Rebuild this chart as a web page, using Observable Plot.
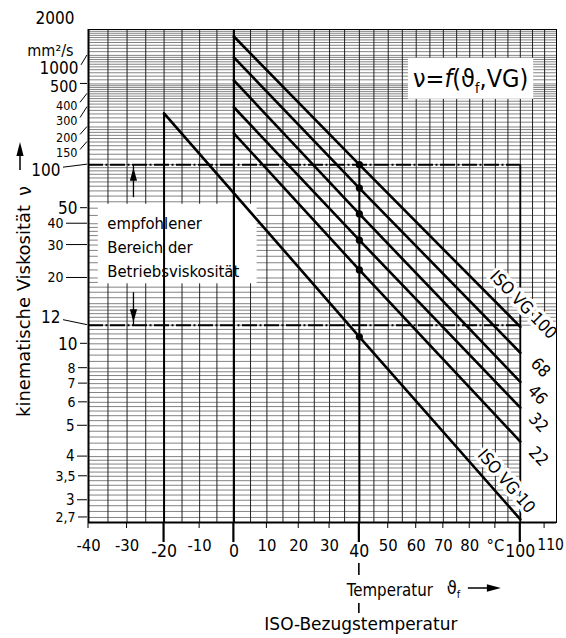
<!DOCTYPE html>
<html><head><meta charset="utf-8">
<script src="https://cdn.jsdelivr.net/npm/d3@7"></script>
<script src="https://cdn.jsdelivr.net/npm/@observablehq/plot@0.6"></script>
<style>
html,body{margin:0;padding:0;background:#fff;}
#chart svg{display:block;}
</style>
</head><body><div id="chart"></div>
<script>
// ---------------- data ----------------
const grades      = ["ISO VG 100", "68", "46", "32", "22", "ISO VG 10"];
const startTemp   = [0, 0, 0, 0, 0, -20];
const startVisc   = [1648, 951, 543, 299, 177, 263.5];
const refTemp     = 40;
const refVisc     = [100, 68, 46, 32, 22, 10.7];
const endTemp     = 100;
const endVisc     = [11.8, 9.2, 7.1, 5.75, 4.45, 2.67];

const yTickValues = [2000, 1000, 500, 400, 300, 200, 150, 100, 50, 40, 30, 20, 12, 10, 8, 7, 6, 5, 4, 3.5, 3, 2.7];
const yTickLabels = ["2000","1000","500","400","300","200","150","100","50","40","30","20","12","10","8","7","6","5","4","3,5","3","2,7"];
const xTickValues = [-40, -30, -20, -10, 0, 10, 20, 30, 40, 50, 60, 70, 80, 90, 100, 110];
const xTickLabels = ["-40","-30","-20","-10","0","10","20","30","40","50","60","70","80","°C","100","110"];
const xEmphasis   = [-20, 0, 40, 100];
const xGridStep   = [-35, 110, 5];
const ySegments   = [[2.7,4,0.1],[4,6,0.2],[6,8,0.25],[8,15,0.5],[15,20,1],[20,40,2],[40,100,5],[100,200,10],[200,500,20],[500,1000,50],[1000,2000,100]];
const rangeLimits = [100, 12];          // empfohlener Bereich der Betriebsviskosität
const rangeArrowFrom = [59, 17];
const rangeArrowTemp = -28.3;

// ---------------- layout / styles ----------------
const FONT = "'DejaVu Sans Condensed','Liberation Sans Narrow','DejaVu Sans',sans-serif";
const W = v => Math.log10(Math.log10(v + 0.8));   // Ubbelohde viscosity axis
const K = t => t + 273.15;                        // absolute temperature (log axis)
const yBottom = 2.62, yTop = 2000, tLeft = -40, tRight = 115;
const ML = 88, MR = 10, MT = 29, MB = 116;
const rangeBox   = {t1: -37.5, t2: 7, v1: 18.7, v2: 53};
const formulaBox = {t1: 57.2, t2: 105.5, v1: 355, v2: 929};
const rightBox   = {t1: 100, t2: tRight, v1: yBottom, v2: 11.8};
const yLabelLayout = {
  "2000": {right: 74, dy: -11, size: 17, conn: false},
  "1000": {right: 78, dy: 13, size: 17},
  "500":  {right: 77, dy: 3,  size: 16},
  "400":  {right: 77, dy: 12, size: 12.5},
  "300":  {right: 77, dy: 14, size: 12.5},
  "200":  {right: 77, dy: 11, size: 12.5},
  "150":  {right: 77, dy: 11, size: 12.5},
  "100":  {right: 60, dy: 6,  size: 17},
  "50":   {right: 77, dy: 0,  size: 17},
  "40":   {right: 63, dy: 0,  size: 14},
  "30":   {right: 63, dy: 0,  size: 14},
  "20":   {right: 63, dy: 0,  size: 14},
  "12":   {right: 60, dy: -8, size: 17},
  "10":   {right: 77, dy: 1,  size: 17},
  "8":    {right: 75, dy: 0,  size: 14},
  "7":    {right: 75, dy: 0,  size: 14},
  "6":    {right: 75, dy: 0,  size: 14},
  "5":    {right: 74, dy: 0,  size: 15},
  "4":    {right: 74, dy: 0,  size: 15},
  "3,5":  {right: 75, dy: 0,  size: 14},
  "3":    {right: 74, dy: 0,  size: 15},
  "2,7":  {right: 75, dy: 0,  size: 14}
};
const lineLabelLayout = [
  {dx: 3,   dy: -22, rotate: 46, size: 17},
  {dx: 20,  dy: 15,  rotate: 46, size: 17},
  {dx: 17,  dy: 13,  rotate: 46, size: 17},
  {dx: 18,  dy: 15,  rotate: 46, size: 17},
  {dx: 18,  dy: 15,  rotate: 46, size: 17},
  {dx: -14, dy: -38, rotate: 49, size: 17}
];

// ---------------- derived tables ----------------
const lineData = grades.flatMap((g, i) => [
  {grade: g, t: startTemp[i], v: startVisc[i]},
  {grade: g, t: refTemp,      v: refVisc[i]},
  {grade: g, t: endTemp,      v: endVisc[i]}
]);
const refPoints = grades.map((g, i) => ({grade: g, t: refTemp, v: refVisc[i]}));
const endPoints = grades.map((g, i) => ({grade: g, t: endTemp, v: endVisc[i]}));
const yGrid = Array.from(new Set(ySegments.flatMap(([a, b, s]) =>
  d3.range(a, b + s / 2, s).map(v => +v.toFixed(2)))));
const xGrid = d3.range(xGridStep[0], xGridStep[1] + 1, xGridStep[2]);
const rangeArrows = rangeLimits.map((lim, i) => ({limit: lim, from: rangeArrowFrom[i], t: rangeArrowTemp}));

const headUp = {draw(c) { c.moveTo(0, 0); c.lineTo(-3.6, 13); c.lineTo(3.6, 13); c.closePath(); }};
const headDown = {draw(c) { c.moveTo(0, 0); c.lineTo(-3.6, -13); c.lineTo(3.6, -13); c.closePath(); }};

// -------- decorations outside the frame (drawn with the plot's scales) --------
function decorations(index, scales, values, dims) {
  const sx = scales.x, sy = scales.y;
  const L = dims.marginLeft, B = dims.height - dims.marginBottom;
  const g = d3.create("svg:g");
  const ln = (x1, y1, x2, y2, w = 1) => g.append("line").attr("x1", x1).attr("y1", y1)
    .attr("x2", x2).attr("y2", y2).attr("stroke", "black").attr("stroke-width", w);
  const txt = (x, y, s, anchor, size) => g.append("text").attr("x", x).attr("y", y).attr("dy", "0.35em")
    .attr("text-anchor", anchor).attr("font-size", size).attr("fill", "black").text(s);
  // y tick connectors
  yTickValues.forEach((v, i) => {
    const lay = yLabelLayout[yTickLabels[i]];
    if (lay.conn === false) return;
    const gy = sy(W(v));
    const y1 = Math.abs(lay.dy) > 3 ? gy + lay.dy - Math.sign(lay.dy) * 3 : gy;
    ln(lay.right + 3, y1, L - 1, gy, 1);
  });
  // x ticks below the frame
  xTickValues.forEach(t => {
    const px = sx(K(t));
    if (xEmphasis.includes(t)) ln(px, B, px, B + 20, 2.2);
    else ln(px, B, px, B + 6, 1);
  });
  const p40 = sx(K(refTemp));
  ln(p40, B + 41, p40, B + 53, 1.6);
  ln(p40, B + 81, p40, B + 91, 1.6);
  // x title
  txt(p40 - 12, B + 68, "Temperatur", "start", 17).attr("textLength", 86).attr("lengthAdjust", "spacingAndGlyphs");
  txt(p40 + 88, B + 66, "ϑ", "start", 18);
  txt(p40 + 98, B + 72, "f", "start", 11);
  ln(p40 + 109, B + 66, p40 + 130, B + 66, 1.5);
  g.append("path").attr("d", `M${p40 + 142},${B + 66}L${p40 + 128},${B + 62.3}L${p40 + 128},${B + 69.7}Z`).attr("fill", "black");
  txt(p40 + 2, B + 102, "ISO-Bezugstemperatur", "middle", 18).attr("textLength", 193).attr("lengthAdjust", "spacingAndGlyphs");
  // y title
  g.append("text").attr("transform", `translate(24,311) rotate(-90)`).attr("dy", "0.35em")
    .attr("text-anchor", "middle").attr("font-size", 18).attr("fill", "black")
    .attr("textLength", 212).attr("lengthAdjust", "spacingAndGlyphs").text("kinematische Viskosität");
  g.append("text").attr("transform", `translate(24,191) rotate(-90)`).attr("dy", "0.35em")
    .attr("text-anchor", "middle").attr("font-size", 19).attr("fill", "black").text("ν");
  ln(20, 170, 20, 154, 1.5);
  g.append("path").attr("d", "M20,142L16.4,156L23.6,156Z").attr("fill", "black");
  // formula
  const fx = (sx(K(formulaBox.t1)) + sx(K(formulaBox.t2))) / 2;
  const fy = (sy(W(formulaBox.v1)) + sy(W(formulaBox.v2))) / 2;
  const ft = g.append("text").attr("x", fx).attr("y", fy).attr("dy", "0.35em")
    .attr("text-anchor", "middle").attr("font-size", 25).attr("fill", "black");
  ft.append("tspan").text("ν=");
  ft.append("tspan").attr("font-style", "italic").text("f");
  ft.append("tspan").text("(ϑ");
  ft.append("tspan").attr("dy", 6).attr("font-size", 14).text("f");
  ft.append("tspan").attr("dy", -6).text(",VG)");
  return g.node();
}

// ---------------- plot ----------------
const marks = [
  // grid
  Plot.ruleY(yGrid, {y: W, stroke: "#5a5a5a", strokeWidth: 0.75}),
  Plot.ruleX(xGrid, {x: K, stroke: "#222", strokeWidth: 1}),
  // white boxes
  Plot.rect([rangeBox, formulaBox, rightBox], {
    x1: d => K(d.t1), x2: d => K(d.t2), y1: d => W(d.v1), y2: d => W(d.v2), fill: "white"
  }),
  // bold reference verticals
  Plot.ruleX([0], {x: K, stroke: "black", strokeWidth: 2.2}),
  Plot.ruleX([startTemp[5]], {x: K, y1: () => W(startVisc[5]), y2: () => W(yBottom), stroke: "black", strokeWidth: 2}),
  Plot.ruleX([refTemp], {x: K, y1: () => W(refVisc[0]), y2: () => W(yBottom), stroke: "black", strokeWidth: 2}),
  Plot.ruleX([endTemp], {x: K, y1: () => W(rangeLimits[0]), y2: () => W(yBottom), stroke: "black", strokeWidth: 1.8}),
  // recommended range (dash-dot)
  Plot.ruleY(rangeLimits, {y: W, x1: () => K(tLeft), x2: () => K(endTemp), stroke: "black", strokeWidth: 2, strokeDasharray: "15,2.5,2,2.5"}),
  Plot.link(rangeArrows, {x1: d => K(d.t), x2: d => K(d.t), y1: d => W(d.from), y2: d => W(d.limit), stroke: "black", strokeWidth: 1.3}),
  Plot.dot(rangeArrows.slice(0, 1), {x: d => K(d.t), y: d => W(d.limit), dy: 3, symbol: headUp, fill: "black", stroke: "none"}),
  Plot.dot(rangeArrows.slice(1), {x: d => K(d.t), y: d => W(d.limit), dy: -3, symbol: headDown, fill: "black", stroke: "none"}),
  // viscosity-temperature lines
  Plot.line(lineData, {x: d => K(d.t), y: d => W(d.v), z: "grade", stroke: "black", strokeWidth: 2.6}),
  Plot.dot(refPoints, {x: d => K(d.t), y: d => W(d.v), r: 3.6, fill: "black", stroke: "none"}),
  // line labels
  ...grades.map((g, i) => Plot.text([endPoints[i]], {
    x: d => K(d.t), y: d => W(d.v), text: d => d.grade,
    dx: lineLabelLayout[i].dx, dy: lineLabelLayout[i].dy, rotate: lineLabelLayout[i].rotate,
    fontSize: lineLabelLayout[i].size, fill: "black", stroke: "white", strokeWidth: 7, paintOrder: "stroke"
  })),
  // range text
  Plot.text([rangeBox], {
    x: d => K(d.t1), y: d => W(d.v2), text: () => "empfohlener\nBereich der\nBetriebsviskosität",
    textAnchor: "start", lineAnchor: "top", lineHeight: 1.45, dx: 9, dy: 8, fontSize: 16.5, fill: "black"
  }),
  // frame
  Plot.frame({stroke: "black", strokeWidth: 1}),
  Plot.ruleX([tLeft], {x: K, stroke: "black", strokeWidth: 2}),
  Plot.ruleY([yBottom], {y: W, stroke: "black", strokeWidth: 2}),
  // y tick labels
  ...yTickValues.map((v, i) => {
    const lay = yLabelLayout[yTickLabels[i]];
    return Plot.text([v], {y: W, text: () => yTickLabels[i], frameAnchor: "left", textAnchor: "end",
      dx: lay.right - ML, dy: lay.dy, fontSize: lay.size, fill: "black"});
  }),
  Plot.text(["mm²/s"], {frameAnchor: "top-left", textAnchor: "end", dx: 73 - ML, dy: 15, fontSize: 16, fill: "black"}),
  // x tick labels
  Plot.text(xTickValues.filter(t => !xEmphasis.includes(t) && t !== 110), {
    x: K, text: t => xTickLabels[xTickValues.indexOf(t)], frameAnchor: "bottom", dy: 28, fontSize: 16.5, fill: "black"
  }),
  Plot.text([110], {
    x: K, text: t => xTickLabels[xTickValues.indexOf(t)], frameAnchor: "bottom", dx: 6, dy: 27, fontSize: 15.5, fill: "black"
  }),
  Plot.text(xEmphasis, {
    x: K, text: t => xTickLabels[xTickValues.indexOf(t)], frameAnchor: "bottom", dy: 34, fontSize: 17.5, fill: "black"
  }),
  decorations
];

const chart = Plot.plot({
  width: 566, height: 638,
  marginLeft: ML, marginRight: MR, marginTop: MT, marginBottom: MB,
  x: {type: "log", domain: [K(tLeft), K(tRight)], axis: null},
  y: {type: "linear", domain: [W(yBottom), W(yTop)], axis: null},
  style: {fontFamily: FONT, background: "white", color: "black", overflow: "visible"},
  marks
});
document.getElementById("chart").append(chart);
</script>
</body></html>
